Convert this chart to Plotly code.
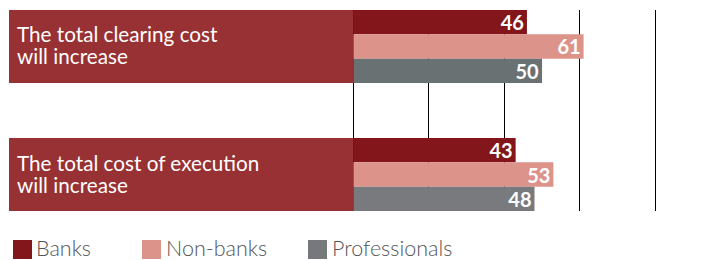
import plotly.graph_objects as go

# ---- data ----
categories = ["The total clearing cost\nwill increase",
              "The total cost of execution\nwill increase"]
series_names = ["Banks", "Non-banks", "Professionals"]
banks = [46, 43]
non_banks = [61, 53]
professionals = [50, 48]
grid_vals = [0, 20, 40, 60, 80]

# ---- style ----
W, H = 721, 260
X0_PX = 353.3          # pixel of value 0
PX_PER_UNIT = 3.775
M_T, M_B = 10, 49
PLOT_H = H - M_T - M_B
HALF = 0.285           # half band occupied by a group (in category units)

box_color = "#983133"
colors = {"Banks": "#82161A", "Non-banks": "#DB938A"}
prof_colors = ["#6A7172", "#797A7E"]
legend_colors = ["#82161A", "#DB938A", "#77787C"]
FONT = "Lato"

values = {"Banks": banks, "Non-banks": non_banks, "Professionals": professionals}

fig = go.Figure()
for name in series_names:
    col = colors.get(name, prof_colors)
    fig.add_trace(go.Bar(
        y=categories, x=values[name], name=name, orientation="h",
        marker=dict(color=col, line=dict(width=0)),
        text=[str(v) for v in values[name]],
        textposition="inside", insidetextanchor="end",
        constraintext="none", textangle=0,
        textfont=dict(family=FONT, size=20, color="white", weight="bold"),
        showlegend=False, hoverinfo="skip",
    ))

shapes = []
annotations = []
# category label boxes
for i, cat in enumerate(categories):
    shapes.append(dict(type="rect", xref="paper", yref="y",
                       x0=9 / W, x1=X0_PX / W, y0=i - HALF, y1=i + HALF,
                       fillcolor=box_color, line=dict(width=0), layer="above"))
    lines = cat.split("\n")
    shifts = [12, -10]
    for ln, sh in zip(lines, shifts):
        annotations.append(dict(text=ln, xref="paper", yref="y", x=16 / W, y=i,
                                xanchor="left", yanchor="middle", yshift=sh,
                                showarrow=False, borderpad=0,
                                font=dict(family=FONT, size=20.7, color="white")))

# manual legend
def py(p):
    return (H - M_B - p) / PLOT_H

leg_sq_x = [13, 142, 308]
leg_txt_x = [35, 165, 331]
for name, c, sx, tx in zip(series_names, legend_colors, leg_sq_x, leg_txt_x):
    shapes.append(dict(type="rect", xref="paper", yref="paper",
                       x0=sx / W, x1=(sx + 19) / W, y0=py(259), y1=py(240),
                       fillcolor=c, line=dict(width=0)))
    annotations.append(dict(text=name, xref="paper", yref="paper",
                            x=tx / W, y=py(248), xanchor="left", yanchor="middle",
                            showarrow=False, borderpad=0,
                            font=dict(family=FONT, size=21.5, color="#555555", weight=300)))

x_min = -X0_PX / PX_PER_UNIT
x_max = (W - X0_PX) / PX_PER_UNIT

fig.update_layout(
    width=W, height=H,
    margin=dict(l=0, r=0, t=M_T, b=M_B, pad=0),
    paper_bgcolor="white", plot_bgcolor="white",
    barmode="group", bargap=0.43, bargroupgap=0,
    xaxis=dict(range=[x_min, x_max], tickvals=grid_vals, showticklabels=False,
               showgrid=True, gridcolor="black", gridwidth=1, zeroline=False,
               showline=False, ticks=""),
    yaxis=dict(type="category", range=[len(categories) - 1 + HALF, -HALF],
               showticklabels=False, showgrid=False, zeroline=False, ticks=""),
    shapes=shapes, annotations=annotations,
    showlegend=False,
)

fig.write_html("out.html", config={"displayModeBar": False},
               post_script="document.body.style.margin='0';document.body.style.overflow='hidden';")
